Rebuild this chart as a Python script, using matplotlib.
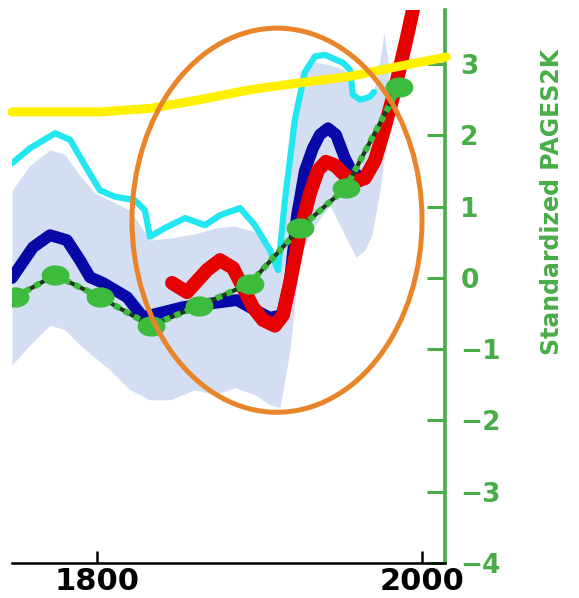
import matplotlib
matplotlib.use("Agg")
import matplotlib.pyplot as plt
from matplotlib.patches import Ellipse
from matplotlib.path import Path
import numpy as np

# ---- data ----
band_year = [1747.7, 1758.8, 1771.1, 1780.3, 1789.5, 1798.8, 1808.0, 1820.3, 1832.6, 1844.9,
             1860.3, 1872.6, 1884.9, 1897.2, 1906.5, 1912.6, 1918.8, 1924.9, 1934.2, 1943.4,
             1952.6, 1959.4, 1964.9, 1969.2, 1974.2, 1976.6, 1979.1, 1981.5]
band_hi = [1.23, 1.58, 1.80, 1.73, 1.44, 1.19, 1.09, 0.95, 0.53, 0.56,
           0.62, 0.70, 0.73, 0.65, 0.46, 0.14, 1.37, 2.89, 3.03, 2.99,
           2.92, 2.52, 2.50, 2.50, 3.06, 3.44, 3.06, 2.08]
band_lo = [-1.22, -0.94, -0.66, -0.73, -0.94, -1.12, -1.29, -1.57, -1.71, -1.71,
           -1.57, -1.64, -1.54, -1.64, -1.78, -1.82, -1.01, 0.32, 0.74, 1.02,
           0.60, 0.29, 0.39, 0.60, 1.23, 1.65, 1.94, 2.08]

yellow_year = [1747.7, 1802, 1833, 1863, 1894, 1919, 1956, 1986, 2015]
yellow_val = [2.33, 2.33, 2.38, 2.50, 2.64, 2.72, 2.83, 2.97, 3.10]

cyan_year = [1747.7, 1758.8, 1774.2, 1783.4, 1792.6, 1801.8, 1811.1, 1823.4, 1829.5, 1832.6,
             1841.8, 1854.2, 1866.5, 1875.7, 1888.0, 1897.2, 1906.5, 1911.4, 1915.7, 1921.8,
             1928.0, 1934.2, 1940.3, 1951.4, 1955.7, 1957.5, 1961.8, 1968.0, 1970.5]
cyan_val = [1.61, 1.82, 2.03, 1.94, 1.58, 1.23, 1.14, 1.09, 0.95, 0.58,
            0.70, 0.84, 0.74, 0.88, 0.98, 0.74, 0.39, 0.11, 1.09, 2.22,
            2.89, 3.11, 3.13, 3.02, 2.92, 2.57, 2.50, 2.54, 2.61]

blue_year = [1747.7, 1760.6, 1771.1, 1781.5, 1789.5, 1795.7, 1803.7, 1818.5, 1828.3, 1838.8,
             1852.9, 1869.5, 1886.2, 1897.2, 1906.5, 1913.8, 1918.8, 1923.1, 1928.0, 1932.9,
             1937.2, 1942.2, 1947.1, 1952.6, 1956.9, 1960.6]
blue_val = [0.00, 0.43, 0.60, 0.53, 0.25, 0.01, -0.07, -0.27, -0.55, -0.49,
            -0.41, -0.36, -0.31, -0.45, -0.56, -0.52, -0.03, 0.88, 1.51, 1.82,
            2.01, 2.10, 2.01, 1.68, 1.49, 1.44]

red_year = [1846.2, 1855.4, 1867.7, 1875.7, 1883.7, 1889.8, 1896.0, 1902.2, 1909.5, 1914.5,
            1918.8, 1924.9, 1931.1, 1936.0, 1940.9, 1946.5, 1952.6, 1958.8, 1964.9, 1971.1,
            1977.2, 1982.2, 1986.5, 1990.8, 1995.1]
red_val = [-0.07, -0.20, 0.11, 0.25, 0.14, -0.13, -0.41, -0.59, -0.67, -0.52,
           -0.07, 0.63, 1.19, 1.51, 1.63, 1.58, 1.44, 1.35, 1.40, 1.65,
           2.12, 2.54, 2.96, 3.38, 3.83]

pages_year = [1749.5, 1774, 1802, 1833, 1863, 1894, 1925, 1953, 1986]
pages_val = [-0.27, 0.04, -0.27, -0.67, -0.39, -0.08, 0.70, 1.26, 2.68]

x_ticks = [1800, 2000]
x_ticklabels = ["1800", "2000"]
y_ticks = [-4, -3, -2, -1, 0, 1, 2, 3]
y_ticklabels = ["\u22124", "\u22123", "\u22122", "\u22121", "0", "1", "2", "3"]
ylabel_text = "Standardized PAGES2K"

# ---- styling ----
GREEN_AX = "#48ad48"
GREEN_DOT = "#3dbb3d"

fig = plt.figure(figsize=(5.79, 5.98), dpi=100)
ax = fig.add_axes([12 / 579, 35 / 598, 433 / 579, 553 / 598])
ax.set_xlim(1747.7, 2014.2)
ax.set_ylim(-4, 3.76)

ax.fill_between(band_year, band_lo, band_hi, color="#d3def3", lw=0, zorder=1)

kw = dict(solid_capstyle="round", solid_joinstyle="round")
ax.plot(blue_year, blue_val, color="#0808a8", lw=8.5, zorder=2, **kw)
ax.plot(cyan_year, cyan_val, color="#22e6f0", lw=4.5, zorder=3, **kw)
ax.plot(red_year, red_val, color="#e60000", lw=10, zorder=4, **kw)
ax.plot(yellow_year, yellow_val, color="#fff000", lw=6.5, zorder=5, clip_on=False, **kw)

# PAGES2K: dotted link + elliptical dots
ax.plot(pages_year, pages_val, color="#1d3a1d", lw=3, zorder=6)
ax.plot(pages_year, pages_val, color=GREEN_DOT, lw=4.5, ls=(0, (1.0, 0.8)), zorder=6.5)
circ = Path.unit_circle()
ell_marker = Path(circ.vertices * np.array([1.4, 1.0]), circ.codes)
ax.plot(pages_year, pages_val, ls="none", marker=ell_marker, markersize=19,
        markerfacecolor=GREEN_DOT, markeredgecolor=GREEN_DOT, zorder=7)

ax.add_patch(Ellipse((1910.8, 0.81), width=178.5, height=5.39, fill=False,
                     edgecolor="#e8852a", lw=3.6, zorder=8))

# axes styling
for s in ("left", "top"):
    ax.spines[s].set_visible(False)
ax.spines["bottom"].set_color("black")
ax.spines["bottom"].set_linewidth(1.8)
ax.spines["right"].set_color(GREEN_AX)
ax.spines["right"].set_linewidth(2.6)

ax.set_xticks(x_ticks)
ax.set_xticklabels(x_ticklabels, fontsize=22, fontweight="bold")
ax.tick_params(axis="x", direction="in", length=9, width=1.8, colors="black", pad=3)

ax.yaxis.tick_right()
ax.set_yticks(y_ticks)
ax.set_yticklabels(y_ticklabels, fontsize=19, fontweight="bold", color=GREEN_AX)
ax.tick_params(axis="y", direction="in", length=13, width=2.2, colors=GREEN_AX, pad=11)

fig.text(552 / 579, 1 - 202 / 598, ylabel_text, rotation=90, ha="center", va="center",
         color=GREEN_AX, fontsize=17, fontweight="bold")

fig.savefig("out.png", dpi=100)
